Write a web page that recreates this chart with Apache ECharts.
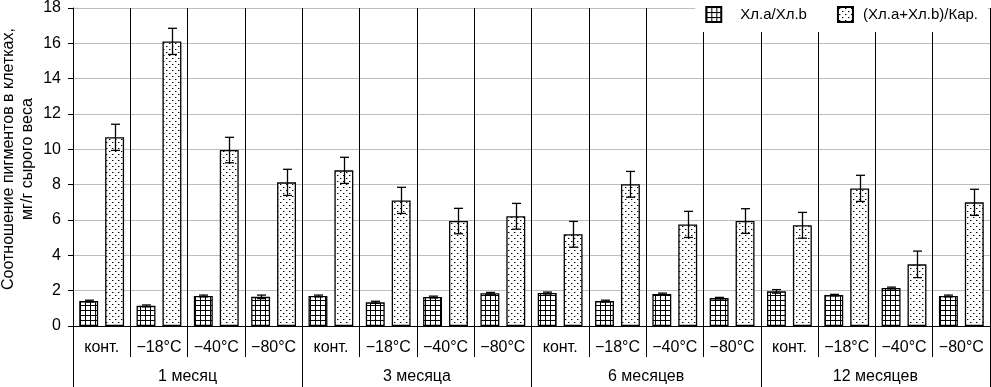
<!DOCTYPE html>
<html>
<head>
<meta charset="utf-8">
<script src="https://cdn.jsdelivr.net/npm/echarts@6/dist/echarts.min.js"></script>
<style>
html,body{margin:0;padding:0;background:#fff;}
#chart{width:991px;height:387px;}
</style>
</head>
<body>
<div id="chart"></div>
<script>
var categories = ["конт.","−18°C","−40°C","−80°C","конт.","−18°C","−40°C","−80°C","конт.","−18°C","−40°C","−80°C","конт.","−18°C","−40°C","−80°C"];
var groups = ["1 месяц","3 месяца","6 месяцев","12 месяцев"];
var seriesNames = ["Хл.a/Хл.b","(Хл.a+Хл.b)/Кар."];
var yTitle = "Соотношение пигментов в клетках,\nмг/г сырого веса";
var ratioAB = [1.41,1.14,1.70,1.65, 1.70,1.34,1.64,1.85, 1.87,1.41,1.81,1.58, 1.96,1.75,2.15,1.70];
var ratioABCar = [10.68,16.11,9.96,8.13, 8.81,7.11,5.94,6.21, 5.19,8.02,5.75,5.94, 5.70,7.79,3.49,7.00];
var errAB = [0.05,0.05,0.05,0.10, 0.05,0.06,0.05,0.05, 0.05,0.05,0.05,0.04, 0.10,0.04,0.05,0.05];
var errABCar = [0.74,0.74,0.72,0.74, 0.74,0.74,0.72,0.73, 0.73,0.73,0.74,0.70, 0.73,0.74,0.75,0.74];
var yTicks = {min:0, max:18, interval:2};

function gridPattern(){
  var c = document.createElement('canvas'); c.width = 5; c.height = 5;
  var g = c.getContext('2d');
  g.fillStyle = '#fff'; g.fillRect(0,0,5,5);
  g.fillStyle = '#000'; g.fillRect(0,0,5,1); g.fillRect(0,0,1,5);
  return c;
}
function dotPattern(){
  var c = document.createElement('canvas'); c.width = 6; c.height = 6;
  var g = c.getContext('2d');
  g.fillStyle = '#fff'; g.fillRect(0,0,6,6);
  g.fillStyle = '#000';
  g.fillRect(1,1,1,1); g.fillRect(4,4,1,1);
  g.fillStyle = '#9a9a9a';
  g.fillRect(2,1,1,1); g.fillRect(5,4,1,1);
  return c;
}

var BAR_W = 0.33, BAR_GAP = 0.37;
function errRender(which, errs){
  return function(params, api){
    var idx = api.value(0), v = api.value(1), e = errs[params.dataIndex];
    var band = api.size([1,0])[0];
    var bw = band*BAR_W;
    var off = (bw + bw*BAR_GAP)/2 * (which === 0 ? -1 : 1);
    var top = api.coord([idx, v + e]);
    var bot = api.coord([idx, v - e]);
    var x = Math.round(top[0] + off) + 0.5;
    var cap = 4.5;
    var st = {stroke:'#000', lineWidth:1.3};
    return {type:'group', children:[
      {type:'line', shape:{x1:x,y1:top[1],x2:x,y2:bot[1]}, style:st},
      {type:'line', shape:{x1:x-cap,y1:top[1],x2:x+cap,y2:top[1]}, style:st},
      {type:'line', shape:{x1:x-cap,y1:bot[1],x2:x+cap,y2:bot[1]}, style:st}
    ]};
  };
}

var chart = echarts.init(document.getElementById('chart'), null, {renderer:'canvas'});
var font = 'Arial, "Liberation Sans", sans-serif';
chart.setOption({
  animation:false,
  backgroundColor:'#fff',
  textStyle:{fontFamily:font, color:'#000'},
  grid:{left:73, right:1, top:8, bottom:61, containLabel:false, outerBoundsMode:'none'},
  graphic:[{
    type:'text', x:18, y:159, rotation:Math.PI/2, z:10,
    style:{text:yTitle, fontSize:16, fontFamily:font, fill:'#000', align:'center', verticalAlign:'middle', lineHeight:19}
  }],
  legend:{
    right:3, top:0, padding:[6,10,9,10],
    backgroundColor:'#fff',
    icon:'rect',
    itemWidth:15, itemHeight:15, itemGap:30,
    data:[
      {name:seriesNames[0], textStyle:{padding:[0,0,0,14]}},
      {name:seriesNames[1], textStyle:{padding:[0,0,0,5]}}
    ],
    textStyle:{fontSize:15, color:'#000', fontFamily:font}
  },
  xAxis:[{
    type:'category', data:categories, position:'bottom',
    axisLine:{show:true, lineStyle:{color:'#000', width:1}},
    axisTick:{show:true, length:31, interval:0, lineStyle:{color:'#000', width:1}},
    axisLabel:{interval:0, fontSize:16, color:'#000', margin:14, fontFamily:font},
    splitLine:{show:true, interval:0, lineStyle:{color:'#000', width:1}}
  },{
    type:'category', data:groups, position:'bottom', offset:31,
    axisLine:{show:false},
    axisTick:{show:true, length:30, interval:0, lineStyle:{color:'#000', width:1}},
    axisLabel:{interval:0, fontSize:16, color:'#000', margin:12, fontFamily:font},
    splitLine:{show:false}
  }],
  yAxis:{
    type:'value', min:yTicks.min, max:yTicks.max, interval:yTicks.interval,
    axisLine:{show:true, lineStyle:{color:'#000', width:1}},
    axisTick:{show:true, length:5, lineStyle:{color:'#000'}},
    axisLabel:{fontSize:16, color:'#000', margin:12, fontFamily:font},
    splitLine:{show:true, lineStyle:{color:'#bdbdbd', width:1}}
  },
  series:[{
    name:seriesNames[0], type:'bar', data:ratioAB, xAxisIndex:0,
    barWidth:(BAR_W*100)+'%', barGap:(BAR_GAP*100)+'%',
    itemStyle:{color:{image:gridPattern(), repeat:'repeat'}, borderColor:'#000', borderWidth:1.3},
    z:3
  },{
    name:seriesNames[1], type:'bar', data:ratioABCar, xAxisIndex:0,
    barWidth:(BAR_W*100)+'%', barGap:(BAR_GAP*100)+'%',
    itemStyle:{color:{image:dotPattern(), repeat:'repeat'}, borderColor:'#000', borderWidth:1.3},
    z:3
  },{
    type:'custom', xAxisIndex:0, z:5,
    renderItem:errRender(0, errAB),
    data:ratioAB.map(function(v,i){return [i,v];})
  },{
    type:'custom', xAxisIndex:0, z:5,
    renderItem:errRender(1, errABCar),
    data:ratioABCar.map(function(v,i){return [i,v];})
  }]
});
</script>
</body>
</html>
